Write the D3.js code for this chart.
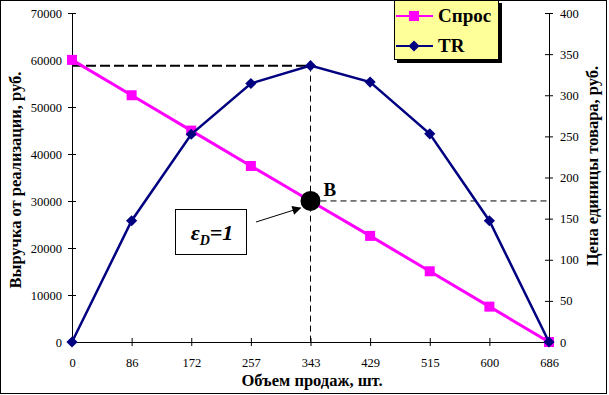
<!DOCTYPE html>
<html>
<head>
<meta charset="utf-8">
<script src="https://cdnjs.cloudflare.com/ajax/libs/d3/7.8.5/d3.min.js"></script>
<style>
  body { margin: 0; background: #fff; }
  svg text { font-family: "Liberation Serif", "Times New Roman", serif; }
</style>
</head>
<body>
<div id="chart"></div>
<script>
const categories = ['0', '86', '172', '257', '343', '429', '515', '600', '686']
const demand = [343, 300, 257, 214, 171.5, 129, 86, 43, 0]
const revenue = [0, 25800, 44200, 55000, 58800, 55300, 44300, 25800, 0]
const leftTicks = [0, 10000, 20000, 30000, 40000, 50000, 60000, 70000]
const rightTicks = [0, 50, 100, 150, 200, 250, 300, 350, 400]
const pointB = {q: '343', price: 171.5, tr: 58800}

const width = 609
const height = 395
const margin = {top: 13, right: 60, bottom: 53, left: 72}
const PINK = '#ff00ff'
const NAVY = '#000080'

const svg = d3.select('#chart').append('svg')
  .attr('width', width).attr('height', height)

svg.append('rect')
  .attr('x', 0.5).attr('y', 0.5).attr('width', 606).attr('height', 393)
  .attr('fill', '#fff').attr('stroke', '#000')

const x = d3.scalePoint().domain(categories).range([margin.left, width - margin.right]).padding(0)
const yL = d3.scaleLinear().domain([0, 70000]).range([height - margin.bottom, margin.top])
const yR = d3.scaleLinear().domain([0, 400]).range([height - margin.bottom, margin.top])

// axes
const axisX = svg.append('g').attr('transform', `translate(0,${yL(0)})`)
  .call(d3.axisBottom(x).tickSizeInner(4).tickSizeOuter(0).tickPadding(12))
axisX.selectAll('.tick line').attr('y1', -4)
const axisL = svg.append('g').attr('transform', `translate(${margin.left},0)`)
  .call(d3.axisLeft(yL).tickValues(leftTicks).tickFormat(d3.format('d')).tickSizeInner(4).tickSizeOuter(0).tickPadding(6))
axisL.selectAll('.tick line').attr('x1', 4)
const axisR = svg.append('g').attr('transform', `translate(${width - margin.right},0)`)
  .call(d3.axisRight(yR).tickValues(rightTicks).tickSizeInner(4).tickSizeOuter(0).tickPadding(7))
axisR.selectAll('.tick line').attr('x1', -4)

svg.selectAll('.domain').attr('stroke', '#000')
svg.selectAll('.tick line').attr('stroke', '#000')
svg.selectAll('.tick text').attr('font-size', 12.5).attr('font-family', '"Liberation Serif", serif').attr('fill', '#000')

// dashed guides
const peakX = x(pointB.q)
svg.append('line')
  .attr('x1', margin.left).attr('x2', peakX).attr('y1', yL(pointB.tr)).attr('y2', yL(pointB.tr))
  .attr('stroke', '#000').attr('stroke-width', 2).attr('stroke-dasharray', '10,4')
svg.append('line')
  .attr('x1', peakX).attr('x2', peakX).attr('y1', yL(pointB.tr)).attr('y2', yL(0))
  .attr('stroke', '#000').attr('stroke-width', 1).attr('stroke-dasharray', '6,4')
svg.append('line')
  .attr('x1', peakX).attr('x2', width - margin.right).attr('y1', yR(pointB.price)).attr('y2', yR(pointB.price))
  .attr('stroke', '#000').attr('stroke-width', 1).attr('stroke-dasharray', '6,4')

// demand series (right axis)
const lineD = d3.line().x((d, i) => x(categories[i])).y(d => yR(d))
svg.append('path').attr('d', lineD(demand))
  .attr('fill', 'none').attr('stroke', PINK).attr('stroke-width', 3)
svg.selectAll('rect.sq').data(demand).enter().append('rect')
  .attr('class', 'sq')
  .attr('x', (d, i) => x(categories[i]) - 5).attr('y', d => yR(d) - 5)
  .attr('width', 10).attr('height', 10).attr('fill', PINK)

// TR series (left axis)
const lineT = d3.line().x((d, i) => x(categories[i])).y(d => yL(d))
svg.append('path').attr('d', lineT(revenue))
  .attr('fill', 'none').attr('stroke', NAVY).attr('stroke-width', 2.5)
const diamond = d3.symbol().type(d3.symbolDiamond2).size(80)
svg.selectAll('path.dm').data(revenue).enter().append('path')
  .attr('class', 'dm')
  .attr('d', diamond)
  .attr('transform', (d, i) => `translate(${x(categories[i])},${yL(d)})`)
  .attr('fill', NAVY)

// point B
svg.append('circle').attr('cx', peakX).attr('cy', yR(pointB.price)).attr('r', 10).attr('fill', '#000')
svg.append('text').text('B').attr('x', peakX + 13).attr('y', yR(pointB.price) - 5)
  .attr('font-size', 19).attr('font-weight', 'bold')

// elasticity box with arrow
svg.append('defs').append('marker')
  .attr('id', 'arrow').attr('viewBox', '0 0 10 10').attr('refX', 9).attr('refY', 5)
  .attr('markerWidth', 10).attr('markerHeight', 9).attr('markerUnits', 'userSpaceOnUse')
  .attr('orient', 'auto')
  .append('path').attr('d', 'M0,0L10,5L0,10Z').attr('fill', '#000')
svg.append('line')
  .attr('x1', 256).attr('y1', 222).attr('x2', peakX - 10).attr('y2', yR(pointB.price) + 7)
  .attr('stroke', '#000').attr('stroke-width', 1).attr('marker-end', 'url(#arrow)')
svg.append('rect').attr('x', 175.5).attr('y', 209.5).attr('width', 71).attr('height', 45)
  .attr('fill', '#fff').attr('stroke', '#000')
const eps = svg.append('text').attr('x', 212).attr('y', 240).attr('text-anchor', 'middle')
  .attr('font-size', 22).attr('font-style', 'italic').attr('font-weight', 'bold')
eps.append('tspan').text('ε')
eps.append('tspan').text('D').attr('font-size', 14).attr('dy', 5)
eps.append('tspan').text('=1').attr('dy', -5)

// legend
const legend = svg.append('g')
legend.append('rect').attr('x', 397).attr('y', 3).attr('width', 105).attr('height', 60).attr('fill', '#000')
legend.append('rect').attr('x', 394.5).attr('y', 0.5).attr('width', 104).attr('height', 59)
  .attr('fill', '#ffff99').attr('stroke', '#000')
const items = [
  {name: 'Спрос', color: PINK, shape: 'square', y: 16},
  {name: 'TR', color: NAVY, shape: 'diamond', y: 46}
]
items.forEach(it => {
  legend.append('line').attr('x1', 396).attr('x2', 433).attr('y1', it.y).attr('y2', it.y)
    .attr('stroke', it.color).attr('stroke-width', 2)
  if (it.shape === 'square') {
    legend.append('rect').attr('x', 409).attr('y', it.y - 5).attr('width', 10).attr('height', 10).attr('fill', it.color)
  } else {
    legend.append('path').attr('d', diamond).attr('transform', `translate(414,${it.y})`).attr('fill', it.color)
  }
  legend.append('text').text(it.name).attr('x', 438).attr('y', it.y + 6)
    .attr('font-size', 19).attr('font-weight', 'bold')
})

// axis titles
svg.append('text').text('Объем продаж, шт.')
  .attr('x', 312).attr('y', 386).attr('text-anchor', 'middle')
  .attr('font-size', 16.5).attr('font-weight', 'bold')
svg.append('text').text('Выручка от реализации, руб.')
  .attr('transform', 'translate(21,180) rotate(-90)').attr('text-anchor', 'middle')
  .attr('font-size', 16.5).attr('font-weight', 'bold')
svg.append('text').text('Цена единицы товара, руб.')
  .attr('transform', 'translate(598,166) rotate(-90)').attr('text-anchor', 'middle')
  .attr('font-size', 16.5).attr('font-weight', 'bold')
</script>
</body>
</html>
